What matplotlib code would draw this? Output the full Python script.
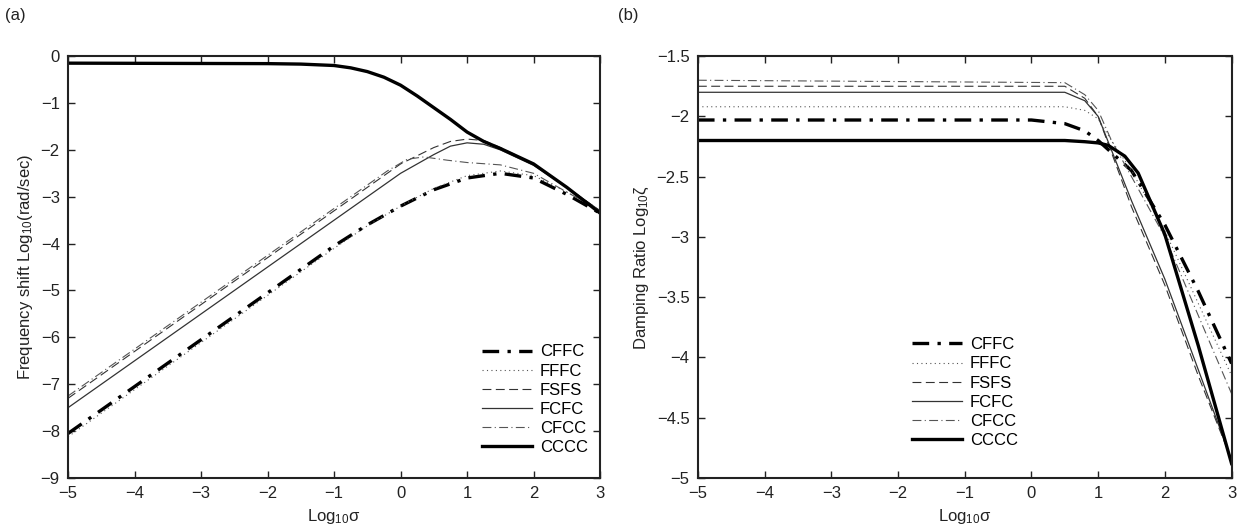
import numpy as np
import matplotlib
matplotlib.use('Agg')
import matplotlib.pyplot as plt

plt.rcParams['font.family'] = ['Liberation Sans', 'DejaVu Sans']
plt.rcParams['mathtext.fontset'] = 'custom'
plt.rcParams['mathtext.rm'] = 'Liberation Sans'
plt.rcParams['mathtext.it'] = 'Liberation Sans:italic'
plt.rcParams['font.size'] = 12

labels = ['CFFC', 'FFFC', 'FSFS', 'FCFC', 'CFCC', 'CCCC']

# (a) frequency shift, log10(rad/sec) vs log10(sigma)
freq_x = {
    'CFFC': [-5, -1, -0.5, 0, 0.5, 1, 1.5, 2, 2.5, 3],
    'FFFC': [-5, -1, -0.5, 0, 0.5, 1, 1.5, 2, 2.5, 3],
    'FSFS': [-5, 0, 0.5, 0.75, 1.0, 1.25, 1.5, 2, 2.5, 3],
    'FCFC': [-5, 0, 0.5, 0.75, 1.0, 1.25, 1.5, 2, 2.5, 3],
    'CFCC': [-5, -0.2, 0.1, 0.35, 0.7, 1.0, 1.5, 2.0, 2.5, 3],
    'CCCC': [-5, -2, -1.5, -1, -0.75, -0.5, -0.25, 0, 0.25, 0.5, 0.75, 1,
             1.25, 1.5, 2, 2.5, 3],
}
freq_y = {
    'CFFC': [-8.05, -4.05, -3.6, -3.2, -2.85, -2.6, -2.5, -2.6, -2.95, -3.35],
    'FFFC': [-8.12, -4.1, -3.62, -3.2, -2.82, -2.55, -2.45, -2.55, -2.9, -3.3],
    'FSFS': [-7.3, -2.3, -1.95, -1.82, -1.77, -1.8, -1.95, -2.3, -2.8, -3.3],
    'FCFC': [-7.5, -2.5, -2.1, -1.92, -1.85, -1.88, -2.0, -2.33, -2.8, -3.3],
    'CFCC': [-7.25, -2.45, -2.2, -2.15, -2.22, -2.27, -2.32, -2.5, -2.9, -3.3],
    'CCCC': [-0.15, -0.16, -0.17, -0.2, -0.25, -0.33, -0.45, -0.62, -0.85,
             -1.1, -1.35, -1.62, -1.82, -1.97, -2.3, -2.8, -3.35],
}

# (b) damping ratio, log10(zeta) vs log10(sigma)
damp_x = {
    'CFFC': [-5, 0, 0.5, 0.8, 1.0, 1.2, 1.5, 2.0, 2.5, 3.0],
    'FFFC': [-5, 0.5, 0.8, 1.0, 1.2, 1.5, 2.0, 2.5, 3.0],
    'FSFS': [-5, 0.5, 0.8, 1.0, 1.2, 1.5, 2.0, 2.5, 3.0],
    'FCFC': [-5, 0.5, 0.8, 1.0, 1.2, 1.5, 2.0, 2.5, 3.0],
    'CFCC': [-5, 0.5, 0.8, 1.0, 1.2, 1.5, 2.0, 2.5, 3.0],
    'CCCC': [-5, 0.5, 0.8, 1.0, 1.15, 1.4, 1.6, 2.0, 2.5, 3.0],
}
damp_y = {
    'CFFC': [-2.03, -2.03, -2.06, -2.12, -2.2, -2.3, -2.45, -2.9, -3.45, -4.05],
    'FFFC': [-1.92, -1.92, -1.95, -2.02, -2.2, -2.45, -2.95, -3.55, -4.15],
    'FSFS': [-1.75, -1.75, -1.85, -2.0, -2.3, -2.75, -3.4, -4.15, -4.85],
    'FCFC': [-1.80, -1.80, -1.87, -2.0, -2.28, -2.7, -3.35, -4.1, -4.85],
    'CFCC': [-1.70, -1.72, -1.82, -1.95, -2.2, -2.5, -3.0, -3.65, -4.3],
    'CCCC': [-2.2, -2.2, -2.21, -2.22, -2.24, -2.33, -2.47, -2.98, -3.9, -4.88],
}

styles = {
    'CFFC': dict(color='k', lw=2.4, dashes=[5, 2.5, 1, 2.5]),
    'FFFC': dict(color='#555555', lw=0.8, dashes=[1, 3]),
    'FSFS': dict(color='#333333', lw=0.8, dashes=[8, 4]),
    'FCFC': dict(color='#333333', lw=0.9),
    'CFCC': dict(color='#555555', lw=0.8, dashes=[8, 3, 1, 3]),
    'CCCC': dict(color='k', lw=2.4),
}

fig = plt.figure(figsize=(12.44, 5.28), dpi=100)
ax1 = fig.add_axes([0.0547, 0.0947, 0.4277, 0.799])
ax2 = fig.add_axes([0.561, 0.0947, 0.429, 0.799])

for name in labels:
    ax1.plot(freq_x[name], freq_y[name], label=name, **styles[name])
    ax2.plot(damp_x[name], damp_y[name], label=name, **styles[name])

ax1.set_xlim(-5, 3)
ax1.set_ylim(-9, 0)
ax1.set_yticks(np.arange(-9, 1, 1))
ax1.set_ylabel('Frequency shift Log$_{10}$(rad/sec)', color='#222222')
ax1.set_xlabel('Log$_{10}$σ', color='#222222')

yt2 = np.arange(-5, -1.4, 0.5)
ax2.set_xlim(-5, 3)
ax2.set_ylim(-5, -1.5)
ax2.set_yticks(yt2)
ax2.set_yticklabels([('%g' % v).replace('-', '\u2212') for v in yt2])
ax2.set_ylabel('Damping Ratio Log$_{10}$ζ', color='#222222')
ax2.set_xlabel('Log$_{10}$σ', color='#222222')

for ax in (ax1, ax2):
    ax.set_xticks(np.arange(-5, 4, 1))
    ax.tick_params(direction='in', top=True, right=True, length=5,
                   width=1.0, labelsize=12, colors='#222222', pad=6)
    for sp in ax.spines.values():
        sp.set_linewidth(1.5)
        sp.set_color('#222222')

ax1.legend(loc='lower left', bbox_to_anchor=(0.765, 0.038), frameon=False,
           handlelength=3.0, labelspacing=0.25, borderaxespad=0.0,
           handletextpad=0.5, fontsize=12)
ax2.legend(loc='lower left', bbox_to_anchor=(0.388, 0.055), frameon=False,
           handlelength=3.0, labelspacing=0.25, borderaxespad=0.0,
           handletextpad=0.5, fontsize=12)

fig.text(0.004, 0.97, '(a)', fontsize=12, va='center', color='#222222')
fig.text(0.497, 0.97, '(b)', fontsize=12, va='center', color='#222222')

fig.savefig('out.png', dpi=100)
